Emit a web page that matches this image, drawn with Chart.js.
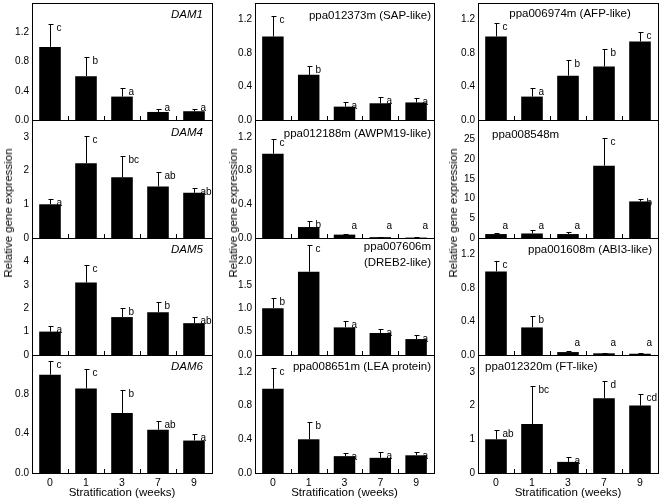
<!DOCTYPE html>
<html>
<head>
<meta charset="utf-8">
<script src="https://cdn.jsdelivr.net/npm/chart.js@4.4.0/dist/chart.umd.min.js"></script>
<style>
  body { margin: 0; background: #fff; }
  #wrap { position: relative; width: 660px; height: 502px; overflow: hidden; font-family: 'Liberation Sans', Arial, sans-serif; }
  canvas { position: absolute; }
  .ytitle { position: absolute; font-size: 11.5px; color: #000; white-space: nowrap; transform: translate(-50%, -50%) rotate(-90deg); }
</style>
</head>
<body>
<div id="wrap"></div>
<script>
// stratification time points
const weeks = ['0', '1', '3', '7', '9'];

// column 1
const dam1Mean = [1.0, 0.6, 0.32, 0.11, 0.12];
const dam1Sd = [0.31, 0.26, 0.12, 0.04, 0.03];
const dam1Sig = ['c', 'b', 'a', 'a', 'a'];

const dam4Mean = [1.0, 2.22, 1.8, 1.53, 1.34];
const dam4Sd = [0.16, 0.82, 0.63, 0.43, 0.14];
const dam4Sig = ['a', 'c', 'bc', 'ab', 'ab'];

const dam5Mean = [1.0, 3.1, 1.62, 1.83, 1.36];
const dam5Sd = [0.22, 0.74, 0.38, 0.43, 0.26];
const dam5Sig = ['a', 'c', 'b', 'b', 'ab'];

const dam6Mean = [1.0, 0.86, 0.61, 0.44, 0.33];
const dam6Sd = [0.14, 0.2, 0.23, 0.09, 0.07];
const dam6Sig = ['c', 'c', 'b', 'ab', 'a'];

// column 2
const sapMean = [1.0, 0.54, 0.16, 0.2, 0.21];
const sapSd = [0.24, 0.11, 0.05, 0.08, 0.05];
const sapSig = ['c', 'b', 'a', 'a', 'a'];

const awpmMean = [1.0, 0.13, 0.04, 0.01, 0.005];
const awpmSd = [0.17, 0.07, 0.005, 0.003, 0.002];
const awpmSig = ['c', 'b', 'a', 'a', 'a'];

const drebMean = [1.0, 1.78, 0.59, 0.47, 0.34];
const drebSd = [0.21, 0.58, 0.14, 0.08, 0.08];
const drebSig = ['b', 'c', 'a', 'a', 'a'];

const leaMean = [1.0, 0.4, 0.2, 0.18, 0.21];
const leaSd = [0.24, 0.2, 0.04, 0.07, 0.04];
const leaSig = ['c', 'b', 'a', 'a', 'a'];

// column 3
const afpMean = [1.0, 0.28, 0.53, 0.64, 0.94];
const afpSd = [0.16, 0.1, 0.19, 0.21, 0.11];
const afpSig = ['c', 'a', 'b', 'b', 'c'];

const p8548Mean = [1.0, 1.15, 1.0, 18.4, 9.3];
const p8548Sd = [0.3, 0.8, 0.6, 7.0, 0.6];
const p8548Sig = ['a', 'a', 'a', 'c', 'b'];

const abi3Mean = [1.0, 0.33, 0.035, 0.02, 0.015];
const abi3Sd = [0.12, 0.14, 0.012, 0.004, 0.003];
const abi3Sig = ['c', 'b', 'a', 'a', 'a'];

const ftMean = [1.0, 1.45, 0.33, 2.22, 2.0];
const ftSd = [0.28, 1.13, 0.15, 0.51, 0.33];
const ftSig = ['ab', 'bc', 'a', 'd', 'cd'];

// panel layout
const rowTop = [3, 120, 238, 355];
const rowH = [117, 118, 117, 118];
const colLeft = [32, 255, 478];
const colW = [180, 179, 180];
const AXW = 32;   // room for y tick labels
const XAXH = 29;  // x labels + title under bottom row
const PAD = 8;    // canvas overlap so edge labels are not clipped
const FONT = '"Liberation Sans", Arial, sans-serif';

const panels = [
  { row: 0, col: 0, title: ['DAM1'], italic: true, align: 'right', inset: 9, ty: 12, max: 1.6, step: 0.4, dec: 1, mean: dam1Mean, sd: dam1Sd, sig: dam1Sig },
  { row: 1, col: 0, title: ['DAM4'], italic: true, align: 'right', inset: 9, ty: 13, max: 3.5, step: 1, dec: 0, mean: dam4Mean, sd: dam4Sd, sig: dam4Sig },
  { row: 2, col: 0, title: ['DAM5'], italic: true, align: 'right', inset: 9, ty: 12, max: 5, step: 1, dec: 0, mean: dam5Mean, sd: dam5Sd, sig: dam5Sig },
  { row: 3, col: 0, title: ['DAM6'], italic: true, align: 'right', inset: 9, ty: 12, max: 1.2, step: 0.4, dec: 1, mean: dam6Mean, sd: dam6Sd, sig: dam6Sig },
  { row: 0, col: 1, title: ['ppa012373m (SAP-like)'], align: 'right', inset: 3, ty: 13, max: 1.4, step: 0.4, dec: 1, mean: sapMean, sd: sapSd, sig: sapSig },
  { row: 1, col: 1, title: ['ppa012188m (AWPM19-like)'], align: 'right', inset: 3, ty: 14, max: 1.4, step: 0.4, dec: 1, mean: awpmMean, sd: awpmSd, sig: awpmSig },
  { row: 2, col: 1, title: ['ppa007606m', '(DREB2-like)'], align: 'right', inset: 3, ty: 9, max: 2.5, step: 0.5, dec: 1, mean: drebMean, sd: drebSd, sig: drebSig },
  { row: 3, col: 1, title: ['ppa008651m (LEA protein)'], align: 'right', inset: 3, ty: 12, max: 1.4, step: 0.4, dec: 1, mean: leaMean, sd: leaSd, sig: leaSig },
  { row: 0, col: 2, title: ['ppa006974m (AFP-like)'], align: 'center', inset: 0, ty: 11, max: 1.4, step: 0.4, dec: 1, mean: afpMean, sd: afpSd, sig: afpSig },
  { row: 1, col: 2, title: ['ppa008548m'], align: 'left', inset: 14, ty: 15, max: 30, step: 5, dec: 0, mean: p8548Mean, sd: p8548Sd, sig: p8548Sig },
  { row: 2, col: 2, title: ['ppa001608m (ABI3-like)'], align: 'right', inset: 6, ty: 12, max: 1.4, step: 0.4, dec: 1, mean: abi3Mean, sd: abi3Sd, sig: abi3Sig },
  { row: 3, col: 2, title: ['ppa012320m (FT-like)'], align: 'left', inset: 7, ty: 12, max: 3.5, step: 1, dec: 0, mean: ftMean, sd: ftSd, sig: ftSig },
];

// frame, error bars, letters, title and inner ticks
function makeDecor(p) {
  return {
    id: 'decor',
    afterDatasetsDraw(chart) {
      const { ctx, chartArea: a, scales: { x, y } } = chart;
      const L = Math.round(a.left), R = Math.round(a.right), T = Math.round(a.top), B = Math.round(a.bottom);
      ctx.save();
      ctx.strokeStyle = '#000';
      ctx.fillStyle = '#000';
      ctx.lineWidth = 1;

      ctx.font = '10px ' + FONT;
      ctx.textAlign = 'left';
      ctx.textBaseline = 'middle';
      chart.getDatasetMeta(0).data.forEach((bar, i) => {
        const cx = Math.round(bar.x) + 0.5;
        const yt = Math.round(y.getPixelForValue(p.mean[i] + p.sd[i])) + 0.5;
        ctx.beginPath();
        ctx.moveTo(cx, bar.y);
        ctx.lineTo(cx, yt);
        ctx.moveTo(cx - 2, yt);
        ctx.lineTo(cx + 3, yt);
        ctx.stroke();
        ctx.fillText(p.sig[i], cx + 6, Math.min(yt + 4, B - 12));
      });

      ctx.beginPath();
      for (let i = 0; i < weeks.length - 1; i++) {
        const xb = Math.round((x.getPixelForValue(i) + x.getPixelForValue(i + 1)) / 2) + 0.5;
        ctx.moveTo(xb, B);
        ctx.lineTo(xb, B - 4);
      }
      ctx.stroke();
      ctx.strokeRect(L + 0.5, T + 0.5, R - L, B - T);

      ctx.font = (p.italic ? 'italic ' : '') + '11.5px ' + FONT;
      ctx.textAlign = p.align;
      const tx = p.align === 'right' ? R - p.inset : p.align === 'left' ? L + p.inset : (L + R) / 2 + 2;
      p.title.forEach((t, k) => ctx.fillText(t, tx, T + p.ty + k * 16));
      ctx.restore();
    }
  };
}

const wrap = document.getElementById('wrap');

panels.forEach(p => {
  const bottomRow = p.row === 3;
  const cv = document.createElement('canvas');
  cv.width = AXW + colW[p.col] + PAD;
  cv.height = PAD + rowH[p.row] + (bottomRow ? XAXH : PAD);
  cv.style.left = (colLeft[p.col] - AXW) + 'px';
  cv.style.top = (rowTop[p.row] - PAD) + 'px';
  wrap.appendChild(cv);

  new Chart(cv, {
    type: 'bar',
    data: {
      labels: weeks,
      datasets: [{
        data: p.mean,
        backgroundColor: '#000',
        barPercentage: 0.6,
        categoryPercentage: 1,
      }],
    },
    options: {
      responsive: false,
      animation: false,
      devicePixelRatio: 1,
      layout: { padding: { left: 0, right: PAD, top: PAD, bottom: bottomRow ? 0 : PAD } },
      plugins: { legend: { display: false }, tooltip: { enabled: false } },
      scales: {
        x: {
          grid: { display: false, drawTicks: false },
          border: { display: false },
          ticks: { display: bottomRow, padding: 4, color: '#000', font: { family: FONT, size: 10.5 } },
          title: { display: bottomRow, text: 'Stratification (weeks)', color: '#000', font: { family: FONT, size: 11.5 }, padding: { top: 0, bottom: 2 } },
          afterFit: s => {
            s.height = bottomRow ? XAXH : 0;
            s.paddingLeft = 0;
            s.paddingRight = 0;
          },
        },
        y: {
          min: 0,
          max: p.max,
          grid: { display: false, drawTicks: false },
          border: { display: false },
          ticks: {
            stepSize: p.step,
            includeBounds: false,
            padding: 3,
            color: '#000',
            font: { family: FONT, size: 10 },
            callback: v => Math.abs(v - p.max) < 1e-6 ? '' : v.toFixed(p.dec),
          },
          afterFit: s => {
            s.width = AXW;
            s.paddingTop = 0;
            s.paddingBottom = 0;
          },
        },
      },
    },
    plugins: [makeDecor(p)],
  });
});

// y axis titles, one per column
[8, 233, 453].forEach(cx => {
  const d = document.createElement('div');
  d.className = 'ytitle';
  d.textContent = 'Relative gene expression';
  d.style.left = cx + 'px';
  d.style.top = '213px';
  wrap.appendChild(d);
});
</script>
</body>
</html>
